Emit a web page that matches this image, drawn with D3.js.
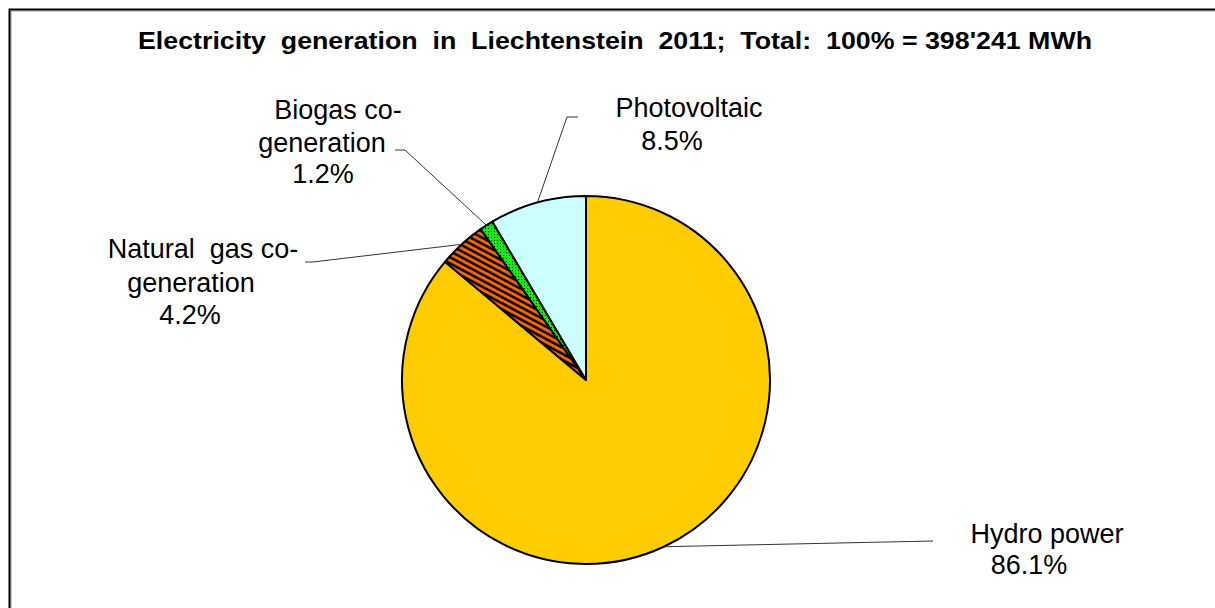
<!DOCTYPE html>
<html>
<head>
<meta charset="utf-8">
<script src="https://cdn.jsdelivr.net/npm/d3@7"></script>
<style>
  html, body { margin: 0; padding: 0; background: #fff; }
  svg { display: block; font-family: 'Liberation Sans', Arial, sans-serif; }
</style>
</head>
<body>
<svg id="chart" width="1215" height="608"></svg>
<script>
// data
const categories = ["Hydro power", "Natural gas co-generation", "Biogas co-generation", "Photovoltaic"];
const shares = [86.1, 4.2, 1.2, 8.5];
const labelLines = [["Hydro power"], ["Natural  gas co-", "generation"], ["Biogas co-", "generation"], ["Photovoltaic"]];
const titleText = "Electricity  generation  in  Liechtenstein  2011;  Total:  100% = 398'241 MWh";

// layout (label text anchors and leader-line elbows), not data
const layout = [
  {elbow: [933, 541], end: [933, 541], lines: [[1047, 543], [1029, 574]]},
  {elbow: [313, 262], end: [305, 262], lines: [[203, 258], [191, 292], [190, 324]]},
  {elbow: [405, 150], end: [395, 150], lines: [[338, 119], [322, 152], [323, 183]]},
  {elbow: [567, 117], end: [578, 117], lines: [[689, 117], [672, 150]]}
];

const width = 1215, height = 608;
const cx = 586, cy = 380, radius = 184;

const svg = d3.select("#chart");
const defs = svg.append("defs");

// striped fill for natural gas
const sp = 5.4;
const stripes = defs.append("pattern")
  .attr("id", "stripes")
  .attr("patternUnits", "userSpaceOnUse")
  .attr("width", sp).attr("height", sp)
  .attr("patternTransform", "rotate(-62)");
stripes.append("rect").attr("width", sp).attr("height", sp).attr("fill", "#FF6600");
stripes.append("rect").attr("width", 2.5).attr("height", sp).attr("fill", "#000");

// dotted fill for biogas
const dots = defs.append("pattern")
  .attr("id", "dots")
  .attr("patternUnits", "userSpaceOnUse")
  .attr("width", 3).attr("height", 3);
dots.append("rect").attr("width", 3).attr("height", 3).attr("fill", "#00FF00");
dots.append("circle").attr("cx", 1.5).attr("cy", 1.5).attr("r", 0.7).attr("fill", "#000");

const fills = ["#FFCC00", "url(#stripes)", "url(#dots)", "#CCFFFF"];

// background + frame
svg.append("rect").attr("width", width).attr("height", height).attr("fill", "#fff");
svg.append("path")
  .attr("d", `M11,${height} V11 H${width}`)
  .attr("fill", "none").attr("stroke", "#9a9a9a").attr("stroke-width", 1);
svg.append("path")
  .attr("d", `M9.5,${height} V9.5 H${width}`)
  .attr("fill", "none").attr("stroke", "#000").attr("stroke-width", 2);

// title
svg.append("text")
  .attr("x", 615).attr("y", 49)
  .attr("text-anchor", "middle")
  .attr("font-size", "24px")
  .attr("font-weight", "bold")
  .attr("textLength", 954)
  .attr("lengthAdjust", "spacingAndGlyphs")
  .style("white-space", "pre")
  .text(titleText);

const pie = d3.pie().sort(null).value(d => d);
const arcs = pie(shares);
const arc = d3.arc().innerRadius(0).outerRadius(radius);

const g = svg.append("g").attr("transform", `translate(${cx},${cy})`);

g.selectAll("path")
  .data(arcs)
  .enter()
  .append("path")
  .attr("d", arc)
  .attr("fill", (d, i) => fills[i])
  .attr("stroke", "#000")
  .attr("stroke-width", 2)
  .attr("stroke-linejoin", "round");

// leader lines from the slice edge at mid-angle
arcs.forEach((d, i) => {
  const a = (d.startAngle + d.endAngle) / 2;
  const p = [cx + radius * Math.sin(a), cy - radius * Math.cos(a)];
  const L = layout[i];
  svg.append("path")
    .attr("d", d3.line()([p, L.elbow, L.end]))
    .attr("fill", "none")
    .attr("stroke", "#333")
    .attr("stroke-width", 1);

  const lines = labelLines[i].concat([d3.format(".1f")(shares[i]) + "%"]);
  lines.forEach((t, j) => {
    svg.append("text")
      .attr("x", L.lines[j][0]).attr("y", L.lines[j][1])
      .attr("text-anchor", "middle")
      .attr("font-size", "27px")
      .attr("fill", "#000")
      .style("white-space", "pre")
      .text(t);
  });
});
</script>
</body>
</html>
